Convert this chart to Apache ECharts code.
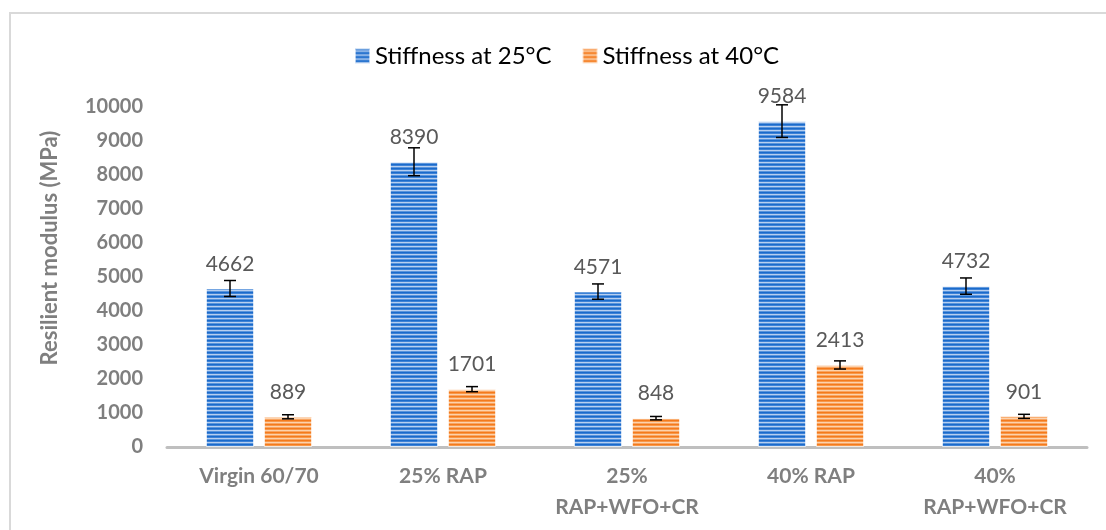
<!DOCTYPE html>
<html>
<head>
<meta charset="utf-8">
<script src="https://cdn.jsdelivr.net/npm/echarts@6/dist/echarts.min.js"></script>
<style>
  html, body { margin: 0; padding: 0; background: #fff; }
  #chart { width: 1106px; height: 530px; }
</style>
</head>
<body>
<div id="chart"></div>
<script>
const categories = ['Virgin 60/70', '25% RAP', '25%\nRAP+WFO+CR', '40% RAP', '40%\nRAP+WFO+CR']
const stiffness25 = [4662, 8390, 4571, 9584, 4732]
const stiffness40 = [889, 1701, 848, 2413, 901]
const error25 = [235, 410, 225, 480, 240]
const error40 = [60, 75, 50, 120, 60]
const yTicks = { min: 0, max: 10000, interval: 1000 }

const FONT = 'Lato, "Open Sans", sans-serif'
const BAR_WIDTH = 48
const BAR_GAP = 10

// horizontal stripe fill like the excel pattern
function stripes(rows) {
  const c = document.createElement('canvas')
  c.width = 8
  c.height = rows.length
  const ctx = c.getContext('2d')
  rows.forEach((color, i) => {
    ctx.fillStyle = color
    ctx.fillRect(0, i, 8, 1)
  })
  return { image: c, repeat: 'repeat' }
}

const bluePattern = stripes(['#1a6acb', '#3d82d6', '#b7cff0', '#5a95dc'])
const orangePattern = stripes(['#f47a1c', '#f8984a', '#fcd2ad', '#f9a562'])

function barSeries(name, data, pattern) {
  return {
    name,
    type: 'bar',
    data,
    barWidth: BAR_WIDTH,
    barGap: (BAR_GAP / BAR_WIDTH * 100) + '%',
    itemStyle: { color: pattern, borderColor: 'rgba(255,255,255,0.6)', borderWidth: 1 },
    label: {
      show: true,
      position: 'top',
      distance: 14,
      color: '#595959',
      fontSize: 21,
      fontFamily: FONT
    }
  }
}

function errorSeries(values, errors, offset) {
  return {
    type: 'custom',
    silent: true,
    z: 5,
    data: values.map((v, i) => [i, v - errors[i], v + errors[i]]),
    renderItem(params, api) {
      const lo = api.coord([api.value(0), api.value(1)])
      const hi = api.coord([api.value(0), api.value(2)])
      const x = lo[0] + offset
      const cap = 6
      const style = { stroke: '#000', lineWidth: 1.5 }
      return {
        type: 'group',
        children: [
          { type: 'line', shape: { x1: x, y1: hi[1], x2: x, y2: lo[1] }, style },
          { type: 'line', shape: { x1: x - cap, y1: hi[1], x2: x + cap, y2: hi[1] }, style },
          { type: 'line', shape: { x1: x - cap, y1: lo[1], x2: x + cap, y2: lo[1] }, style }
        ]
      }
    }
  }
}

const chart = echarts.init(document.getElementById('chart'))
chart.setOption({
  animation: false,
  graphic: [
    {
      type: 'rect',
      shape: { x: 10, y: 13, width: 1200, height: 600 },
      style: { fill: 'none', stroke: '#d9d9d9', lineWidth: 2 },
      silent: true
    },
    {
      type: 'text',
      x: 50,
      y: 248,
      rotation: Math.PI / 2,
      style: {
        text: 'Resilient modulus (MPa)',
        fill: '#7f7f7f',
        font: 'bold 22px ' + FONT,
        align: 'center',
        verticalAlign: 'middle'
      },
      silent: true
    }
  ],
  legend: {
    top: 39,
    left: 349,
    icon: 'rect',
    itemWidth: 15,
    itemHeight: 15,
    itemGap: 30,
    data: ['Stiffness at 25°C', 'Stiffness at 40°C'],
    textStyle: { color: '#000', fontSize: 24, fontFamily: FONT }
  },
  grid: { left: 167, right: 19, top: 107, bottom: 83 },
  xAxis: {
    type: 'category',
    data: categories,
    axisLine: { lineStyle: { color: '#bfbfbf', width: 3 } },
    axisTick: { show: false },
    axisLabel: {
      color: '#7f7f7f',
      fontSize: 21,
      fontWeight: 'bold',
      fontFamily: FONT,
      lineHeight: 31,
      margin: 14,
      interval: 0
    }
  },
  yAxis: {
    type: 'value',
    min: yTicks.min,
    max: yTicks.max,
    interval: yTicks.interval,
    axisLine: { show: false },
    axisTick: { show: false },
    splitLine: { show: false },
    axisLabel: {
      color: '#7f7f7f',
      fontSize: 20,
      fontWeight: 'bold',
      fontFamily: FONT,
      margin: 24,
      formatter: v => String(v)
    }
  },
  series: [
    barSeries('Stiffness at 25°C', stiffness25, bluePattern),
    barSeries('Stiffness at 40°C', stiffness40, orangePattern),
    errorSeries(stiffness25, error25, -(BAR_WIDTH + BAR_GAP) / 2),
    errorSeries(stiffness40, error40, (BAR_WIDTH + BAR_GAP) / 2)
  ]
})
</script>
</body>
</html>
